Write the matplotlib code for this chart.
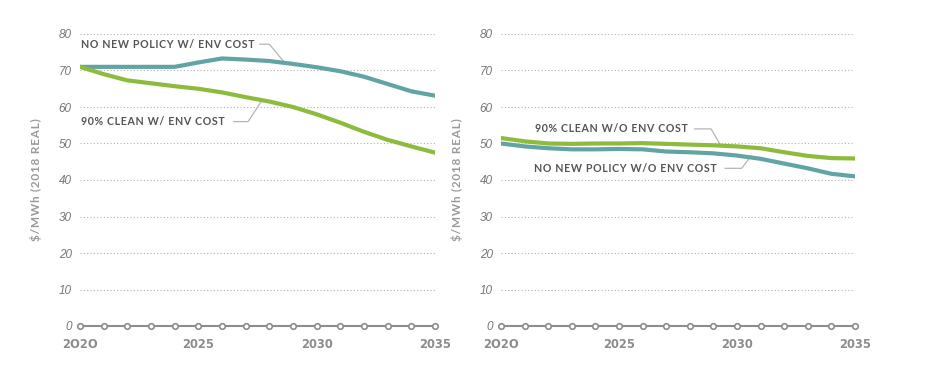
import matplotlib
matplotlib.use("Agg")
import matplotlib.pyplot as plt
import numpy as np

years = list(range(2020, 2036))

# left panel: with environmental cost
noPolicyEnv = [71, 71, 71, 71, 71, 72.2, 73.3, 73.0, 72.6, 71.8, 70.9, 69.8, 68.3, 66.3, 64.3, 63.1]
cleanEnv = [71, 69, 67.3, 66.5, 65.7, 65.0, 64.0, 62.7, 61.5, 60.0, 58.0, 55.7, 53.2, 51.0, 49.2, 47.5]

# right panel: without environmental cost
noPolicyNoEnv = [50, 49.2, 48.7, 48.4, 48.4, 48.5, 48.4, 47.8, 47.6, 47.3, 46.7, 45.8, 44.5, 43.2, 41.7, 41.0]
cleanNoEnv = [51.5, 50.6, 50.0, 49.9, 50.0, 50.0, 50.1, 49.9, 49.7, 49.5, 49.2, 48.7, 47.6, 46.6, 46.0, 45.9]

yTicks = [0, 10, 20, 30, 40, 50, 60, 70, 80]
xTicks = [2020, 2025, 2030, 2035]
xTickLabels = ["2O2O", "2025", "2030", "2035"]
yLabel = "$/MWh (2018 REAL)"

teal = "#62a4a4"
green = "#8dbb3d"
gray = "#8c8c8c"
textGray = "#555555"
leaderGray = "#b5b5b5"
fams = ["Lato", "DejaVu Sans"]

W, H = 933, 389
fig = plt.figure(figsize=(W / 100, H / 100), dpi=100)


def spaced(s):
    # fake letter spacing with hair spaces
    return "\u200a".join(s)


def makeAxes(leftPx, rightPx):
    ax = fig.add_axes([leftPx / W, (H - 326) / H, (rightPx - leftPx) / W, 292 / H])
    ax.set_xlim(2020, 2035)
    ax.set_ylim(0, 80)
    for s in ax.spines.values():
        s.set_visible(False)
    for y in yTicks[1:]:
        ax.axhline(y, color="#b0b0b0", lw=0.8, ls=(0, (1, 2)), zorder=1)
    ax.plot(years, [0] * len(years), color=gray, lw=1.5, marker="o", ms=4,
            mfc="white", mec=gray, mew=1.2, clip_on=False, zorder=3)
    ax.set_yticks(yTicks)
    ax.set_yticklabels([str(v) for v in yTicks], fontstyle="italic",
                       family="Liberation Sans", fontsize=8.5, color="#777777")
    ax.set_xticks(xTicks)
    ax.set_xticklabels(xTickLabels, fontweight="bold", family="DejaVu Sans",
                       fontsize=8.3, color=gray)
    ax.tick_params(length=0)
    ax.tick_params(axis="y", pad=6)
    ax.tick_params(axis="x", pad=9)
    ax.set_ylabel(spaced(yLabel), family=fams, fontweight="bold", fontsize=8.5,
                  color="#9a9a9a", labelpad=12)
    return ax


def label(ax, text, xy, elbow, tip):
    ax.text(xy[0], xy[1], spaced(text), family=fams, fontweight="bold", fontsize=7.65,
            color=textGray, ha="left", va="center", zorder=5)
    ax.plot([elbow[0][0], elbow[1][0], tip[0]], [elbow[0][1], elbow[1][1], tip[1]],
            color=leaderGray, lw=0.9, zorder=2)


axL = makeAxes(80, 435)
axL.plot(years, noPolicyEnv, color=teal, lw=3, zorder=4)
axL.plot(years, cleanEnv, color=green, lw=3, zorder=4)
label(axL, "NO NEW POLICY W/ ENV COST", (2020.05, 77.2), ((2027.6, 77.2), (2028.0, 77.2)), (2028.6, 72.5))
label(axL, "90% CLEAN W/ ENV COST", (2020.05, 56.0), ((2026.5, 56.0), (2027.1, 56.0)), (2027.7, 61.9))

axR = makeAxes(501, 855)
axR.plot(years, cleanNoEnv, color=green, lw=3, zorder=4)
axR.plot(years, noPolicyNoEnv, color=teal, lw=3, zorder=4)
label(axR, "90% CLEAN W/O ENV COST", (2021.45, 54.0), ((2028.2, 54.0), (2028.9, 54.0)), (2029.3, 49.6))
label(axR, "NO NEW POLICY W/O ENV COST", (2021.4, 43.2), ((2029.5, 43.2), (2030.2, 43.2)), (2030.6, 46.6))

fig.savefig("out.png", dpi=100)
